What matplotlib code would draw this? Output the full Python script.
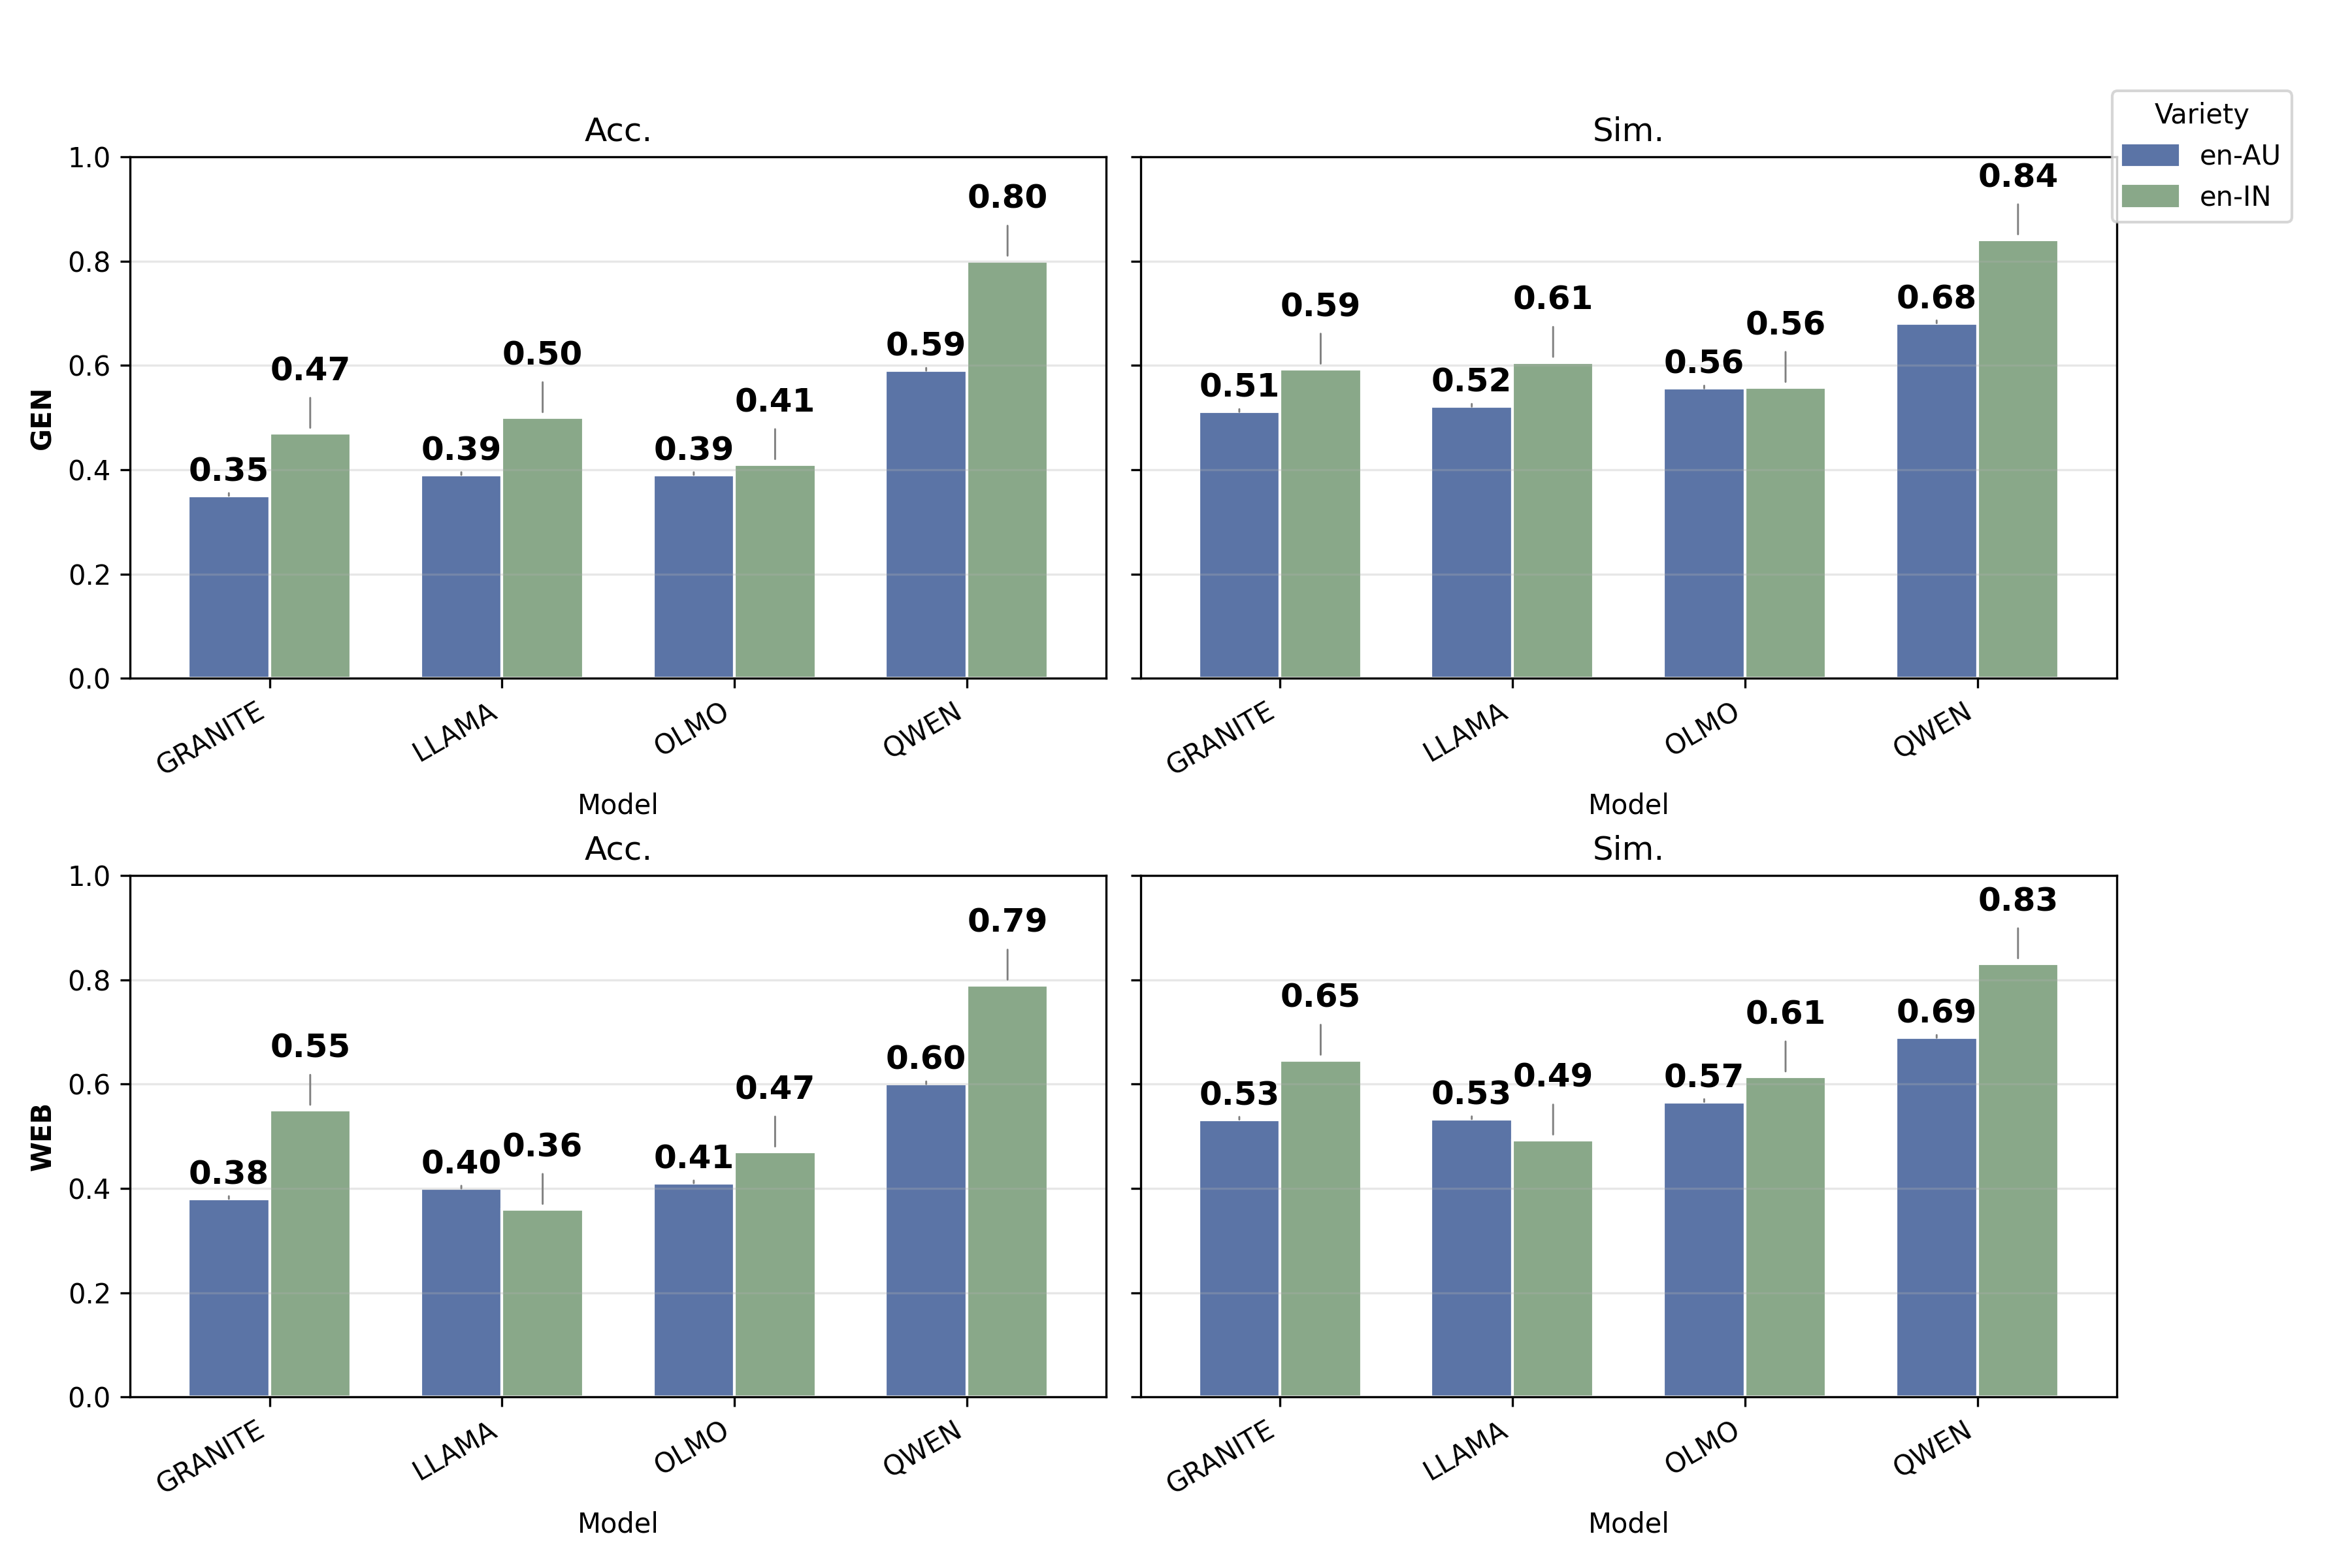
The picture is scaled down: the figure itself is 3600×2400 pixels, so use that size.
import numpy as np
import matplotlib
matplotlib.use('Agg')
from matplotlib import pyplot as plt
from matplotlib.patches import Patch

models = ['GRANITE', 'LLAMA', 'OLMO', 'QWEN']
varieties = ['en-AU', 'en-IN']
metrics = ['Acc.', 'Sim.']
datasets = ['GEN', 'WEB']

# values
gen_acc_au = [0.35, 0.39, 0.39, 0.59]
gen_acc_in = [0.47, 0.50, 0.41, 0.80]
gen_sim_au = [0.511, 0.521, 0.556, 0.681]
gen_sim_in = [0.593, 0.606, 0.558, 0.841]
web_acc_au = [0.38, 0.40, 0.41, 0.60]
web_acc_in = [0.55, 0.36, 0.47, 0.79]
web_sim_au = [0.532, 0.533, 0.566, 0.689]
web_sim_in = [0.646, 0.493, 0.614, 0.831]

colors = ['#5b74a6', '#89a889']

panels = [[(gen_acc_au, gen_acc_in), (gen_sim_au, gen_sim_in)],
          [(web_acc_au, web_acc_in), (web_sim_au, web_sim_in)]]

fig, axes = plt.subplots(2, 2, figsize=(12, 8), dpi=300, sharey=True)
plt.subplots_adjust(left=0.0553, right=0.9, top=0.9, bottom=0.109, wspace=0.035, hspace=0.378)

x = np.arange(len(models))
w = 0.35
offsets = [3, 17]

for r in range(2):
    for c in range(2):
        ax = axes[r, c]
        series = panels[r][c]
        for i, vals in enumerate(series):
            pos = x + (i - 0.5) * w
            ax.bar(pos, vals, w, color=colors[i], edgecolor='white', linewidth=1)
            for px, v in zip(pos, vals):
                ax.annotate(f'{v:.2f}', xy=(px, v), xytext=(0, offsets[i]),
                            textcoords='offset points', ha='center', va='bottom',
                            fontsize=12, fontweight='bold',
                            arrowprops=dict(arrowstyle='-', color='gray', lw=0.7))
        ax.set_ylim(0, 1.0)
        ax.set_xlim(-0.6, 3.6)
        ax.set_xticks(x)
        ax.set_xticklabels(models, rotation=30, ha='right')
        ax.set_title(metrics[c], fontsize=12)
        ax.set_xlabel('Model')
        ax.grid(axis='y', alpha=0.3)
        if c == 0:
            ax.set_ylabel(datasets[r], fontweight='bold')
        ax.tick_params(axis='y', labelleft=(c == 0))

handles = [Patch(color=colors[i]) for i in range(2)]
fig.legend(handles, varieties, title='Variety', loc='upper right',
           bbox_to_anchor=(0.9745, 0.942), borderaxespad=0)

plt.savefig('out.png', dpi=300)
